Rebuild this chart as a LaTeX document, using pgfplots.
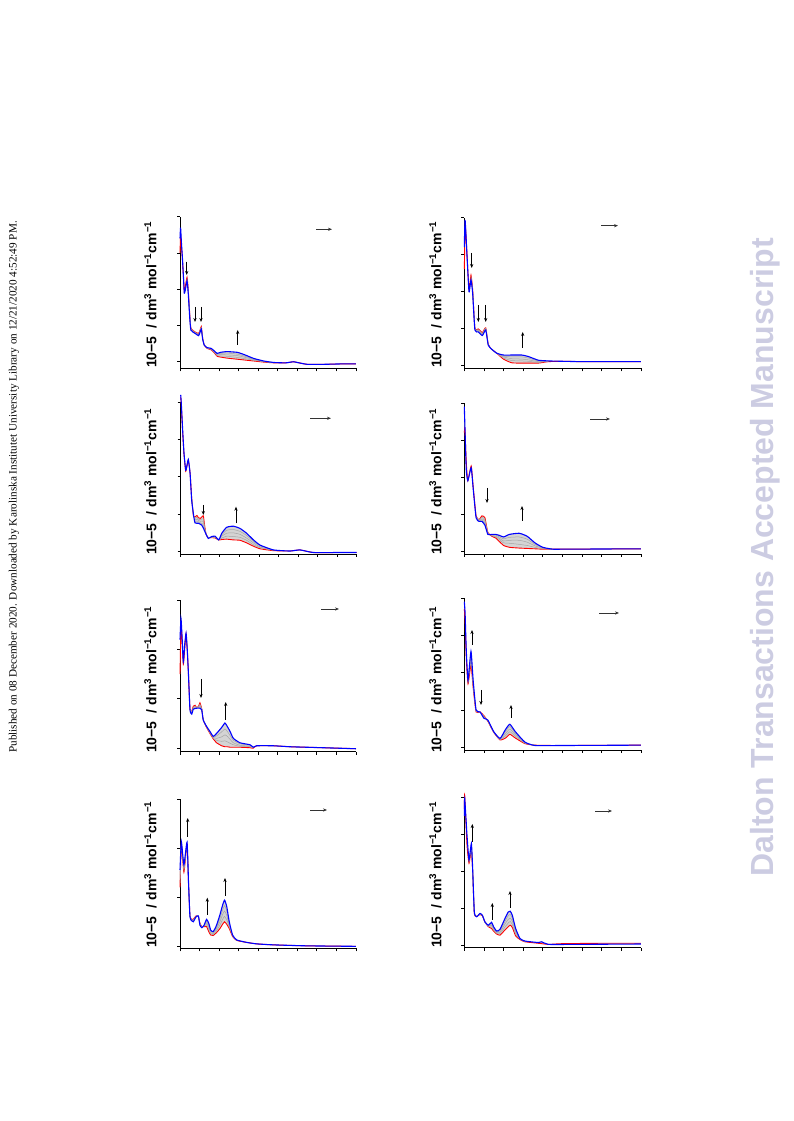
\documentclass[border=0pt]{standalone}
\usepackage{fontspec}
\setmainfont{Liberation Sans}
\newfontfamily\timesf{Liberation Serif}
\usepackage{pgfplots}
\pgfplotsset{compat=1.18}
\usepgfplotslibrary{fillbetween}
\usetikzlibrary{arrows.meta}
\definecolor{wmark}{RGB}{204,204,226}
\definecolor{grayline}{RGB}{165,165,165}
\definecolor{grayfill}{RGB}{212,212,212}
\pgfplotsset{panel/.style={scale only axis, anchor=south west, axis lines*=left, tick align=outside,
  xmin=200, xmax=1100, xtick={200,300,...,1100}, xticklabels={}, yticklabels={},
  major tick length=3pt, clip=false, axis line style={line width=0.9pt},
  every tick/.style={black, line width=0.8pt}},
  rl/.style={red, line width=0.9pt, smooth, tension=0.3, name path=r},
  bl/.style={blue, line width=1.1pt, smooth, tension=0.3, name path=b},
  gl/.style={grayline, line width=0.5pt, smooth, tension=0.3},
  band/.style={grayfill, draw=none}}
\newcommand{\ylab}{\fontsize{14}{16}\selectfont\bfseries 10−5\hspace{8pt}/ dm\textsuperscript{3} mol\textsuperscript{−1}cm\textsuperscript{−1}}
\tikzset{va/.style={-{Stealth[length=4pt,width=3.2pt]}, black, line width=0.9pt},
  ha/.style={-{Stealth[length=4pt,width=3.2pt]}, black!80, line width=0.9pt}}
\begin{document}
\begin{tikzpicture}
\path (0pt,0pt) rectangle (793pt,1121pt);
% ---------- L1 ----------
\begin{axis}[panel, at={(180pt,752.7pt)}, width=176pt, height=151.6pt, ymin=-0.18, ymax=4, ytick={0,1,2,3,4}]
\addplot[rl] coordinates {(200,3.0)(203,3.5)(207,3.2)(212,2.85)(218,2.3)(222,1.95)(228,2.1)(236,2.33)(242,2.0)(250,1.3)(256,0.92)(278,0.82)(295,0.78)(303,0.88)(309,0.97)(316,0.65)(324,0.46)(338,0.37)(359,0.33)(375,0.25)(390,0.15)(407,0.13)(441,0.10)(493,0.07)(527,0.05)(578,0.02)(629,-0.01)(680,-0.03)(740,-0.03)(780,0.0)(800,-0.02)(850,-0.07)(940,-0.07)(1020,-0.06)(1100,-0.06)};
\addplot[gl] coordinates {(236,2.30)(242,1.97)(250,1.27)(256,0.91)(278,0.81)(295,0.76)(303,0.86)(309,0.95)(316,0.64)(324,0.46)(338,0.38)(359,0.34)(375,0.26)(390,0.17)(407,0.16)(441,0.15)(493,0.12)(527,0.09)(578,0.04)(629,0.00)(680,-0.03)};
\addplot[gl] coordinates {(236,2.28)(242,1.95)(250,1.25)(256,0.90)(278,0.80)(295,0.75)(303,0.85)(309,0.93)(316,0.63)(324,0.46)(338,0.38)(359,0.35)(375,0.28)(390,0.19)(407,0.20)(441,0.19)(493,0.17)(527,0.13)(578,0.06)(629,0.01)(680,-0.02)};
\addplot[gl] coordinates {(236,2.25)(242,1.92)(250,1.22)(256,0.88)(278,0.79)(295,0.73)(303,0.83)(309,0.92)(316,0.62)(324,0.46)(338,0.39)(359,0.36)(375,0.29)(390,0.21)(407,0.23)(441,0.24)(493,0.21)(527,0.16)(578,0.07)(629,0.01)(680,-0.02)};
\addplot[bl] coordinates {(200,3.4)(203,3.70)(207,3.3)(212,2.9)(218,2.3)(222,1.89)(228,2.0)(236,2.23)(242,1.9)(250,1.2)(256,0.87)(278,0.78)(295,0.72)(303,0.82)(309,0.90)(316,0.62)(324,0.46)(338,0.39)(359,0.37)(375,0.30)(390,0.23)(407,0.26)(441,0.28)(493,0.26)(527,0.20)(578,0.09)(629,0.02)(680,-0.02)(740,-0.03)(780,0.0)(800,-0.02)(850,-0.07)(940,-0.07)(1020,-0.06)(1100,-0.06)};
\addplot[band] fill between[of=r and b];
\end{axis}
% ---------- R1 ----------
\begin{axis}[panel, at={(464.3pt,752.7pt)}, width=176.7pt, height=150.6pt, ymin=-0.09, ymax=4, ytick={0,1,2,3,4}]
\addplot[rl] coordinates {(200,2.6)(205,3.8)(213.6,3.0)(224,2.05)(234,2.44)(242.5,2.05)(254,1.00)(271,0.98)(292,0.88)(309,1.01)(322,0.56)(339,0.43)(365,0.32)(399,0.16)(441,0.06)(492,0.05)(526,0.05)(577,0.05)(628,0.09)(700,0.10)(800,0.09)(900,0.09)(1100,0.09)};
\addplot[gl] coordinates {(234,2.41)(242.5,2.02)(254,0.99)(271,0.96)(292,0.86)(309,1.00)(322,0.55)(339,0.43)(365,0.32)(399,0.19)(441,0.12)(492,0.11)(526,0.10)(577,0.07)(628,0.10)};
\addplot[gl] coordinates {(234,2.38)(242.5,2.00)(254,0.98)(271,0.94)(292,0.84)(309,0.98)(322,0.55)(339,0.43)(365,0.32)(399,0.22)(441,0.17)(492,0.16)(526,0.14)(577,0.09)(628,0.10)};
\addplot[gl] coordinates {(234,2.34)(242.5,1.97)(254,0.96)(271,0.92)(292,0.82)(309,0.97)(322,0.54)(339,0.43)(365,0.32)(399,0.24)(441,0.22)(492,0.22)(526,0.19)(577,0.11)(628,0.11)};
\addplot[bl] coordinates {(200,3.2)(204,3.94)(213.6,2.99)(224,1.99)(234,2.31)(242.5,1.95)(254,0.95)(271,0.90)(292,0.80)(309,0.95)(322,0.54)(339,0.43)(365,0.32)(399,0.27)(441,0.27)(492,0.27)(526,0.23)(577,0.13)(628,0.11)(700,0.10)(800,0.09)(900,0.09)(1100,0.09)};
\addplot[band] fill between[of=r and b];
\end{axis}
% ---------- L2 ----------
\begin{axis}[panel, at={(180.7pt,567pt)}, width=176pt, height=151.3pt, ymin=-0.08, ymax=4, ytick={0,1,2,3,4}]
\addplot[rl] coordinates {(200,4.15)(203,3.95)(210,3.2)(217,2.6)(225.6,2.15)(232,2.3)(239,2.45)(248,2.1)(256,1.45)(265,0.95)(273,0.92)(283,0.96)(290,0.90)(300,0.88)(310,0.93)(316,0.95)(322,0.70)(330,0.45)(341,0.36)(358,0.36)(376,0.35)(393,0.30)(400,0.30)(410,0.31)(435,0.32)(469,0.30)(503,0.29)(537,0.22)(572,0.13)(606,0.06)(674,0.01)(759,0.0)(810,0.03)(878,-0.04)(1015,-0.04)(1100,-0.04)};
\addplot[gl] coordinates {(256,1.43)(265,0.96)(273,0.88)(283,0.91)(290,0.86)(300,0.84)(310,0.87)(316,0.87)(322,0.66)(330,0.45)(341,0.36)(358,0.37)(376,0.36)(393,0.30)(400,0.31)(410,0.35)(435,0.40)(469,0.39)(503,0.37)(537,0.29)(572,0.17)(606,0.09)(674,0.02)};
\addplot[gl] coordinates {(256,1.42)(265,0.98)(273,0.84)(283,0.86)(290,0.83)(300,0.80)(310,0.81)(316,0.79)(322,0.63)(330,0.46)(341,0.35)(358,0.38)(376,0.38)(393,0.30)(400,0.33)(410,0.40)(435,0.48)(469,0.49)(503,0.45)(537,0.35)(572,0.22)(606,0.11)(674,0.02)};
\addplot[gl] coordinates {(256,1.40)(265,0.99)(273,0.80)(283,0.81)(290,0.79)(300,0.76)(310,0.74)(316,0.70)(322,0.59)(330,0.46)(341,0.35)(358,0.38)(376,0.39)(393,0.30)(400,0.34)(410,0.44)(435,0.56)(469,0.58)(503,0.53)(537,0.42)(572,0.26)(606,0.14)(674,0.03)};
\addplot[bl] coordinates {(200,4.21)(203,3.98)(210,3.26)(217,2.63)(225.6,2.18)(232,2.3)(239,2.47)(248,2.09)(256,1.38)(265,1.0)(273,0.76)(290,0.75)(307,0.70)(316,0.62)(324,0.52)(341,0.34)(358,0.39)(376,0.40)(393,0.30)(400,0.35)(410,0.48)(435,0.64)(469,0.67)(503,0.61)(537,0.48)(572,0.30)(606,0.16)(674,0.03)(759,0.0)(810,0.03)(878,-0.04)(1015,-0.04)(1100,-0.04)};
\addplot[band] fill between[of=r and b];
\end{axis}
% ---------- R2 ----------
\begin{axis}[panel, at={(464.3pt,567pt)}, width=176.7pt, height=151pt, ymin=-0.08, ymax=4, ytick={0,1,2,3,4}]
\addplot[rl] coordinates {(200,3.2)(203,3.3)(210,2.4)(218,1.9)(235,2.3)(245,1.75)(260,0.95)(275,0.85)(290,0.95)(305,0.90)(320,0.50)(340,0.40)(360,0.35)(380,0.25)(400,0.15)(430,0.10)(480,0.08)(520,0.07)(560,0.06)(600,0.05)(650,0.05)(700,0.05)(1100,0.06)};
\addplot[gl] coordinates {(260,0.93)(275,0.84)(290,0.91)(305,0.85)(320,0.49)(340,0.41)(360,0.38)(380,0.30)(400,0.22)(430,0.21)(480,0.18)(520,0.15)(560,0.10)(600,0.06)(650,0.05)};
\addplot[gl] coordinates {(260,0.92)(275,0.82)(290,0.87)(305,0.80)(320,0.48)(340,0.43)(360,0.40)(380,0.34)(400,0.27)(430,0.29)(480,0.29)(520,0.24)(560,0.14)(600,0.08)(650,0.05)};
\addplot[gl] coordinates {(260,0.91)(275,0.81)(290,0.84)(305,0.75)(320,0.46)(340,0.44)(360,0.43)(380,0.38)(400,0.33)(430,0.37)(480,0.38)(520,0.32)(560,0.18)(600,0.09)(650,0.05)};
\addplot[bl] coordinates {(200,3.9)(203,3.4)(210,2.2)(218,1.9)(235,2.25)(245,1.7)(260,0.9)(275,0.8)(290,0.8)(305,0.7)(320,0.45)(340,0.45)(360,0.45)(380,0.42)(400,0.38)(430,0.45)(480,0.48)(520,0.40)(560,0.22)(600,0.10)(650,0.05)(700,0.05)(1100,0.06)};
\addplot[band] fill between[of=r and b];
\end{axis}
% ---------- L3 ----------
\begin{axis}[panel, at={(180pt,369.3pt)}, width=176pt, height=151.7pt, ymin=-0.07, ymax=3, ytick={0,1,2,3}]
\addplot[rl] coordinates {(200,1.5)(205,2.5)(210,2.2)(217,1.70)(224,2.0)(231,2.3)(237,2.0)(243,1.52)(251,0.80)(260,0.75)(268,0.85)(277,0.87)(285,0.82)(295,0.85)(302,0.92)(311,0.80)(319,0.57)(336,0.42)(353,0.30)(370,0.19)(387,0.11)(413,0.05)(430,0.03)(442,0.03)(456,0.02)(473,0.02)(507,0.02)(558,0.01)(575,0.0)(592,0.05)(677,0.05)(762,0.03)(848,0.02)(933,0.01)(1100,-0.01)};
\addplot[gl] coordinates {(251,0.79)(260,0.74)(268,0.83)(277,0.85)(285,0.82)(295,0.84)(302,0.89)(311,0.80)(319,0.57)(336,0.43)(353,0.31)(370,0.20)(387,0.16)(413,0.14)(430,0.15)(442,0.13)(456,0.10)(473,0.07)(507,0.04)(558,0.03)(575,0.01)};
\addplot[gl] coordinates {(251,0.79)(260,0.72)(268,0.82)(277,0.84)(285,0.82)(295,0.83)(302,0.87)(311,0.79)(319,0.57)(336,0.43)(353,0.32)(370,0.22)(387,0.20)(413,0.23)(430,0.27)(442,0.24)(456,0.18)(473,0.11)(507,0.06)(558,0.04)(575,0.01)};
\addplot[gl] coordinates {(251,0.78)(260,0.71)(268,0.80)(277,0.82)(285,0.81)(295,0.82)(302,0.84)(311,0.79)(319,0.57)(336,0.44)(353,0.33)(370,0.23)(387,0.25)(413,0.33)(430,0.39)(442,0.34)(456,0.26)(473,0.16)(507,0.09)(558,0.06)(575,0.02)};
\addplot[bl] coordinates {(200,2.2)(205,2.63)(210,2.3)(217,1.75)(224,2.1)(231,2.33)(237,2.0)(243,1.52)(251,0.78)(260,0.69)(268,0.79)(285,0.81)(302,0.81)(311,0.78)(319,0.57)(336,0.44)(353,0.34)(370,0.24)(387,0.30)(413,0.42)(430,0.51)(442,0.44)(456,0.34)(473,0.20)(507,0.11)(558,0.07)(575,0.02)(592,0.05)(677,0.05)(762,0.03)(848,0.02)(933,0.01)(1100,-0.01)};
\addplot[band] fill between[of=r and b];
\end{axis}
% ---------- R3 ----------
\begin{axis}[panel, at={(464.3pt,371pt)}, width=176.7pt, height=152pt, ymin=-0.07, ymax=4, ytick={0,1,2,3,4}]
\addplot[rl] coordinates {(200,3.7)(204,3.4)(210,2.4)(219,1.7)(234,2.2)(245,1.6)(260,0.95)(280,0.95)(300,0.85)(320,0.70)(350,0.40)(382,0.20)(410,0.25)(432,0.35)(460,0.25)(509,0.10)(560,0.06)(690,0.05)(1100,0.06)};
\addplot[gl] coordinates {(219,1.72)(234,2.3)(245,1.65)(260,0.97)(280,0.95)(300,0.83)(320,0.71)(350,0.40)(382,0.21)(410,0.31)(432,0.42)(460,0.30)(509,0.11)(560,0.06)};
\addplot[gl] coordinates {(219,1.75)(234,2.4)(245,1.70)(260,0.98)(280,0.95)(300,0.81)(320,0.72)(350,0.41)(382,0.22)(410,0.37)(432,0.49)(460,0.34)(509,0.12)(560,0.06)};
\addplot[gl] coordinates {(219,1.78)(234,2.5)(245,1.75)(260,0.99)(280,0.95)(300,0.79)(320,0.73)(350,0.42)(382,0.23)(410,0.43)(432,0.56)(460,0.38)(509,0.13)(560,0.05)};
\addplot[bl] coordinates {(200,3.9)(204,3.6)(210,2.6)(219,1.8)(234,2.57)(245,1.8)(260,1.0)(280,0.95)(300,0.78)(320,0.73)(350,0.42)(382,0.24)(410,0.48)(432,0.62)(460,0.42)(509,0.14)(560,0.05)(690,0.05)(1100,0.06)};
\addplot[band] fill between[of=r and b];
\end{axis}
% ---------- L4 ----------
\begin{axis}[panel, at={(180pt,172.7pt)}, width=176pt, height=149.3pt, ymin=-0.04, ymax=3, ytick={0,1,2,3}]
\addplot[rl] coordinates {(200,1.2)(207,2.05)(220,1.51)(236,2.05)(244,1.25)(251,0.62)(260,0.55)(268,0.55)(282,0.62)(294,0.60)(302,0.47)(312,0.40)(323,0.40)(336,0.40)(347,0.30)(357,0.23)(370,0.22)(387,0.28)(404,0.36)(418,0.45)(428,0.50)(439,0.45)(452,0.36)(469,0.20)(490,0.12)(541,0.08)(592,0.05)(677,0.03)(848,0.01)(1100,0.0)};
\addplot[gl] coordinates {(200,1.29)(207,2.07)(220,1.55)(236,2.07)(244,1.25)(251,0.61)(260,0.54)(268,0.54)(282,0.61)(294,0.61)(302,0.46)(312,0.40)(323,0.41)(336,0.44)(347,0.34)(357,0.26)(370,0.24)(387,0.32)(404,0.43)(418,0.55)(428,0.61)(439,0.54)(452,0.40)(469,0.21)(490,0.12)};
\addplot[gl] coordinates {(200,1.38)(207,2.09)(220,1.59)(236,2.09)(244,1.25)(251,0.61)(260,0.54)(268,0.53)(282,0.61)(294,0.61)(302,0.45)(312,0.39)(323,0.42)(336,0.48)(347,0.39)(357,0.28)(370,0.26)(387,0.36)(404,0.50)(418,0.65)(428,0.72)(439,0.63)(452,0.43)(469,0.22)(490,0.13)};
\addplot[gl] coordinates {(200,1.46)(207,2.11)(220,1.62)(236,2.10)(244,1.25)(251,0.60)(260,0.53)(268,0.51)(282,0.60)(294,0.62)(302,0.44)(312,0.39)(323,0.42)(336,0.51)(347,0.43)(357,0.31)(370,0.28)(387,0.39)(404,0.57)(418,0.74)(428,0.83)(439,0.72)(452,0.47)(469,0.22)(490,0.13)};
\addplot[bl] coordinates {(200,1.55)(207,2.13)(220,1.66)(236,2.12)(244,1.25)(251,0.60)(260,0.52)(268,0.50)(282,0.60)(294,0.62)(302,0.43)(312,0.38)(323,0.43)(336,0.55)(347,0.47)(357,0.33)(370,0.30)(387,0.43)(404,0.64)(418,0.84)(428,0.94)(439,0.81)(452,0.50)(469,0.23)(490,0.13)(541,0.08)(592,0.05)(677,0.03)(848,0.01)(1100,0.0)};
\addplot[band] fill between[of=r and b];
\end{axis}
% ---------- R4 ----------
\begin{axis}[panel, at={(464.3pt,173.3pt)}, width=176.7pt, height=150pt, ymin=-0.07, ymax=4, ytick={0,1,2,3,4}]
\addplot[rl] coordinates {(200,3.7)(202,4.07)(213.6,2.72)(224,2.22)(236,2.58)(242.5,2.0)(251,0.86)(263,0.78)(280,0.83)(292,0.80)(305,0.63)(322,0.50)(339,0.45)(349,0.38)(365,0.30)(382,0.27)(407,0.41)(424,0.50)(434,0.54)(444.5,0.48)(461.5,0.25)(483.5,0.15)(509,0.09)(577,0.05)(628,0.02)(700,0.04)(900,0.05)(1100,0.05)};
\addplot[gl] coordinates {(224,2.24)(236,2.63)(242.5,2.02)(251,0.87)(263,0.78)(280,0.84)(292,0.80)(305,0.63)(322,0.51)(339,0.49)(349,0.41)(365,0.32)(382,0.31)(407,0.49)(424,0.60)(434,0.64)(444.5,0.56)(461.5,0.30)(483.5,0.16)(509,0.10)};
\addplot[gl] coordinates {(224,2.27)(236,2.67)(242.5,2.04)(251,0.88)(263,0.78)(280,0.85)(292,0.81)(305,0.63)(322,0.52)(339,0.54)(349,0.44)(365,0.34)(382,0.35)(407,0.57)(424,0.70)(434,0.73)(444.5,0.65)(461.5,0.35)(483.5,0.17)(509,0.10)};
\addplot[gl] coordinates {(224,2.29)(236,2.72)(242.5,2.06)(251,0.89)(263,0.77)(280,0.85)(292,0.81)(305,0.63)(322,0.53)(339,0.58)(349,0.47)(365,0.36)(382,0.39)(407,0.64)(424,0.80)(434,0.83)(444.5,0.73)(461.5,0.40)(483.5,0.17)(509,0.11)};
\addplot[bl] coordinates {(200,3.5)(202,3.98)(213.6,2.99)(224,2.31)(236,2.76)(242.5,2.08)(251,0.90)(263,0.77)(280,0.86)(292,0.81)(305,0.63)(322,0.54)(339,0.62)(349,0.50)(365,0.38)(382,0.43)(407,0.72)(424,0.90)(434,0.92)(444.5,0.81)(461.5,0.45)(483.5,0.18)(509,0.11)(577,0.07)(594,0.09)(628,0.02)(764,0.02)(1100,0.03)};
\addplot[band] fill between[of=r and b];
\end{axis}
\begin{scope}[x=1pt,y=1pt]
% ---------- y labels ----------
\foreach \xx in {150.5,435.5}{
  \node[rotate=90, anchor=west, inner sep=0pt] at (\xx,753) {\ylab};
  \node[rotate=90, anchor=west, inner sep=0pt] at (\xx,566) {\ylab};
  \node[rotate=90, anchor=west, inner sep=0pt] at (\xx,368) {\ylab};
  \node[rotate=90, anchor=west, inner sep=0pt] at (\xx,173) {\ylab};
}
% ---------- horizontal arrows ----------
\draw[ha] (316,891.7) -- (332,891.7);
\draw[ha] (601,895.3) -- (618,895.3);
\draw[ha] (310,702.7) -- (331,702.7);
\draw[ha] (590,702) -- (610,702);
\draw[ha] (321,512) -- (339,512);
\draw[ha] (599,508) -- (619,508);
\draw[ha] (310,311) -- (327,311);
\draw[ha] (595,310) -- (612,310);
% ---------- vertical arrows ----------
\draw[va] (186.7,859.3) -- (186.7,846);
\draw[va] (195,814) -- (195,799);
\draw[va] (201,814) -- (201,799);
\draw[va] (237.7,776) -- (237.7,791);
\draw[va] (471.7,868) -- (471.7,853);
\draw[va] (478.3,816) -- (478.3,799);
\draw[va] (485.7,816) -- (485.7,799);
\draw[va] (522.7,773) -- (522.7,789);
\draw[va] (203.3,616) -- (203.3,606);
\draw[va] (236,597.7) -- (236,614.3);
\draw[va] (487,633) -- (487,618);
\draw[va] (522,600) -- (522,615);
\draw[va] (201,442) -- (201,423);
\draw[va] (225.7,401) -- (225.7,419);
\draw[va] (472,476) -- (472,491);
\draw[va] (481,431) -- (481,416);
\draw[va] (511,403) -- (511,416);
\draw[va] (187.7,284.3) -- (187.7,303);
\draw[va] (207.3,206) -- (207.3,223.3);
\draw[va] (225,225.3) -- (225,243);
\draw[va] (472.3,279.3) -- (472.3,297);
\draw[va] (492.3,201) -- (492.3,218);
\draw[va] (510,213.3) -- (510,230);
% ---------- side texts ----------
\node[rotate=90, inner sep=0pt, font=\timesf\fontsize{11.2}{13}\selectfont] at (14,634) {Published on 08 December 2020. Downloaded by Karolinska Institutet University Library on 12/21/2020 4:52:49 PM.};
\node[rotate=90, inner sep=0pt, text=wmark, font=\bfseries\fontsize{32}{34}\selectfont] at (765,563.5) {Dalton Transactions Accepted Manuscript};
\end{scope}
\end{tikzpicture}
\end{document}
